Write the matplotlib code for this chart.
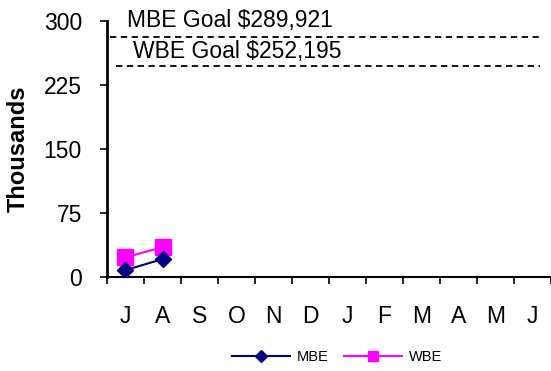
import matplotlib
matplotlib.use("Agg")
import matplotlib.pyplot as plt
from matplotlib.lines import Line2D

plt.rcParams['font.family'] = ['Liberation Sans', 'DejaVu Sans']

months = ["J", "A", "S", "O", "N", "D", "J", "F", "M", "A", "M", "J"]
mbe = [8, 21]
wbe = [23, 35]
mbe_goal = 281
wbe_goal = 247
mbe_goal_label = "MBE Goal $289,921"
wbe_goal_label = "WBE Goal $252,195"
yticks = [0, 75, 150, 225, 300]

fig = plt.figure(figsize=(5.51, 3.71), dpi=100)
ax = fig.add_axes([107/551, 1-277/371, 1-107/551, (277-21)/371])

xc = [i + 0.5 for i in range(len(months))]
ax.plot(xc[:len(wbe)], wbe, color="#FF00FF", marker="s", markersize=11, lw=1.5, zorder=3)
ax.plot(xc[:len(mbe)], mbe, color="#000080", marker="D", markersize=8, lw=1.5, zorder=4)

ax.plot([0.08, 11.7], [mbe_goal, mbe_goal], ls=(0, (3.5, 2.5)), color="black", lw=1.3)
ax.plot([0.25, 11.7], [wbe_goal, wbe_goal], ls=(0, (3.5, 2.5)), color="black", lw=1.3)
ax.text(0.54, 301, mbe_goal_label, fontsize=16.5, va="center", ha="left", clip_on=False)
ax.text(0.70, 264, wbe_goal_label, fontsize=16.5, va="center", ha="left")

ax.set_xlim(0, 12)
ax.set_ylim(0, 300)
ax.set_yticks(yticks)
ax.set_yticklabels([str(v) for v in yticks], fontsize=16.5)
ax.set_xticks(xc)
ax.set_xticklabels(months, fontsize=16.5)
ax.set_xticks(range(13), minor=True)
ax.tick_params(axis="x", which="major", length=0, pad=20)
ax.tick_params(axis="x", which="minor", length=5, width=1.2, direction="out")
ax.tick_params(axis="y", length=5, width=1.2, pad=13)

for s in ["top", "right"]:
    ax.spines[s].set_visible(False)
ax.spines["left"].set_linewidth(2)
ax.spines["bottom"].set_linewidth(1.5)

ax.set_ylabel("Thousands", fontsize=17, fontweight="bold")
ax.yaxis.set_label_coords(-0.174, 0.5)

handles = [
    Line2D([0], [0], color="#000080", marker="D", markersize=6, lw=1.5),
    Line2D([0], [0], color="#FF00FF", marker="s", markersize=7, lw=1.5),
]
fig.legend(handles, ["MBE", "WBE"], loc="center", bbox_to_anchor=(337/551, 1-357/371),
           ncol=2, frameon=False, fontsize=10.5, handlelength=4, columnspacing=1.0, handletextpad=0.5)

fig.savefig("out.png", dpi=100)
